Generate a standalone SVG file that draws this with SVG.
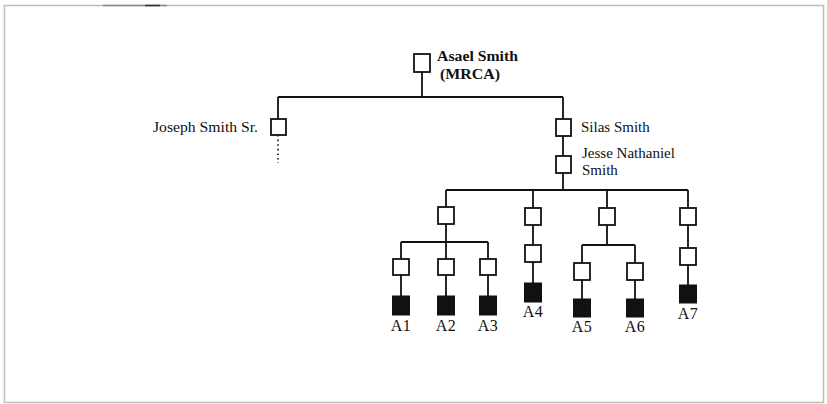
<svg xmlns="http://www.w3.org/2000/svg" width="827" height="404" viewBox="0 0 827 404">
<style>
.bx{fill:#fff;stroke:#111;stroke-width:1.8}
.fb{fill:#111;stroke:#111;stroke-width:1}
.ln{stroke:#111;stroke-width:1.8;fill:none}
.t{font-family:"Liberation Serif","Times New Roman",serif;font-size:15px;fill:#111}
.b{font-weight:bold}
.lab{font-family:"Liberation Serif","Times New Roman",serif;font-size:16px;fill:#111;text-anchor:middle;letter-spacing:0.5px}
</style>
<rect x="0" y="0" width="827" height="404" fill="#fff"/>
<g id="frame">
<rect x="4.5" y="5.5" width="819" height="397" fill="none" stroke="#bdbdbd" stroke-width="1.5"/>
<line x1="103" y1="5.5" x2="167" y2="5.5" stroke="#8a8a8a" stroke-width="1.5"/>
<line x1="145" y1="5.5" x2="160" y2="5.5" stroke="#333" stroke-width="1.5"/>
</g>
<g id="connectors">
<path class="ln" d="M422 72V97M278 97H563M278 97V119M563 97V119M563 136V156M563 173V190M446 190H688"/>
<line x1="278" y1="135" x2="278" y2="163" stroke="#111" stroke-width="1.6" stroke-dasharray="1.6 3"/>
<path class="ln" d="M446 190V207M533 190V208M607 190V208M688 190V208"/>
<path class="ln" d="M446 224V242M401 242H488M401 242V259M446 242V259M488 242V259M401 275V296M446 275V296M488 275V296"/>
<path class="ln" d="M533 225V245M533 262V283"/>
<path class="ln" d="M607 225V245M582 245H635M582 245V263M635 245V263M582 280V299M635 280V299"/>
<path class="ln" d="M688 225V248M688 265V285"/>
</g>
<g id="asael"><rect class="bx" x="414" y="54" width="16" height="18"/><text class="t b" x="437" y="61" textLength="81" lengthAdjust="spacingAndGlyphs">Asael Smith</text><text class="t b" x="440" y="79" textLength="60" lengthAdjust="spacingAndGlyphs">(MRCA)</text></g>
<g id="joseph"><rect class="bx" x="271" y="119" width="15" height="16"/><text class="t" x="153" y="132" textLength="105" lengthAdjust="spacingAndGlyphs">Joseph Smith Sr.</text></g>
<g id="silas"><rect class="bx" x="556" y="119" width="15" height="17"/><text class="t" x="581" y="132">Silas Smith</text></g>
<g id="jesse"><rect class="bx" x="556" y="156" width="15" height="17"/><text class="t" x="582" y="158">Jesse Nathaniel</text><text class="t" x="582" y="175">Smith</text></g>
<g id="g1"><rect class="bx" x="438" y="207" width="16" height="17"/></g>
<g id="g2"><rect class="bx" x="525" y="208" width="16" height="17"/></g>
<g id="g3"><rect class="bx" x="599" y="208" width="16" height="17"/></g>
<g id="g4"><rect class="bx" x="680" y="208" width="16" height="17"/></g>
<g id="p1"><rect class="bx" x="393" y="259" width="16" height="16"/></g>
<g id="p2"><rect class="bx" x="438" y="259" width="16" height="16"/></g>
<g id="p3"><rect class="bx" x="480" y="259" width="16" height="16"/></g>
<g id="p4"><rect class="bx" x="525" y="245" width="16" height="17"/></g>
<g id="p5"><rect class="bx" x="574" y="263" width="16" height="17"/></g>
<g id="p6"><rect class="bx" x="627" y="263" width="16" height="17"/></g>
<g id="p7"><rect class="bx" x="680" y="248" width="16" height="17"/></g>
<g id="A1"><rect class="fb" x="392.5" y="296" width="17" height="19"/><text class="lab" x="401" y="331">A1</text></g>
<g id="A2"><rect class="fb" x="437.5" y="296" width="17" height="19"/><text class="lab" x="446" y="331">A2</text></g>
<g id="A3"><rect class="fb" x="479.5" y="296" width="17" height="19"/><text class="lab" x="488" y="331">A3</text></g>
<g id="A4"><rect class="fb" x="524.5" y="283" width="17" height="19"/><text class="lab" x="533" y="317">A4</text></g>
<g id="A5"><rect class="fb" x="573.5" y="299" width="17" height="18"/><text class="lab" x="582" y="332">A5</text></g>
<g id="A6"><rect class="fb" x="626.5" y="299" width="17" height="18"/><text class="lab" x="635" y="332">A6</text></g>
<g id="A7"><rect class="fb" x="679.5" y="285" width="17" height="18"/><text class="lab" x="688" y="319">A7</text></g>
</svg>
